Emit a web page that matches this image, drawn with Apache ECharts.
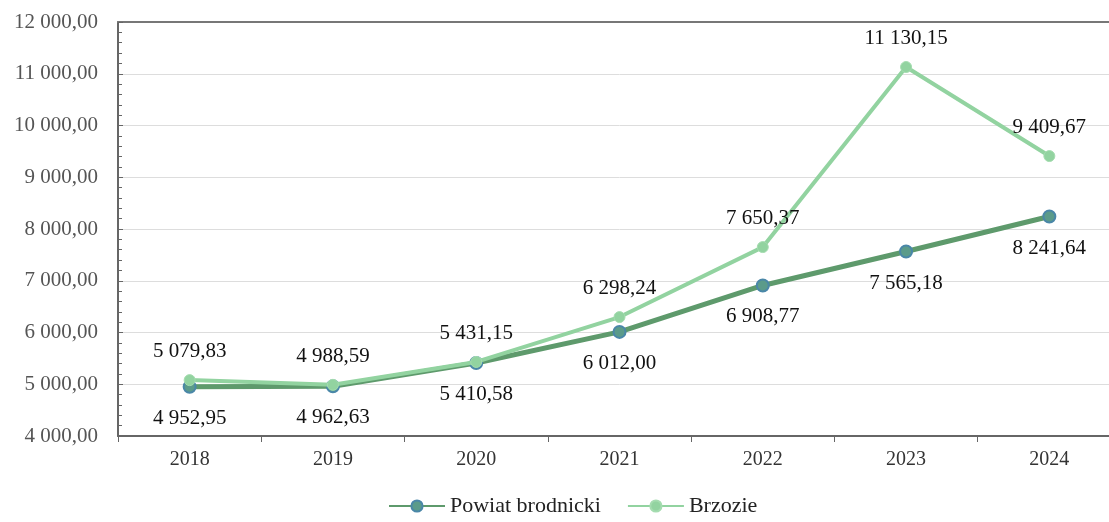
<!DOCTYPE html>
<html>
<head>
<meta charset="utf-8">
<script src="https://cdn.jsdelivr.net/npm/echarts@6/dist/echarts.min.js"></script>
<style>
html, body { margin: 0; padding: 0; background: #fff; overflow: hidden; }
/* the original plot runs past the right edge of the picture, so the canvas is a bit wider than the window */
#chart { width: 1121px; height: 522px; }
</style>
</head>
<body>
<div id="chart"></div>
<script>
var years = ['2018', '2019', '2020', '2021', '2022', '2023', '2024'];
var powiat = [4952.95, 4962.63, 5410.58, 6012.00, 6908.77, 7565.18, 8241.64];
var brzozie = [5079.83, 4988.59, 5431.15, 6298.24, 7650.37, 11130.15, 9409.67];

function fmt(v) {
	var parts = v.toFixed(2).split('.');
	var intPart = parts[0].replace(/\B(?=(\d{3})+(?!\d))/g, ' ');
	return intPart + ',' + parts[1];
}

var serif = 'Liberation Serif';
var myChart = echarts.init(document.getElementById('chart'));
var option = {
	animation: false,
	grid: { left: 118, right: 0, top: 22, bottom: 86 },
	legend: {
		bottom: 0,
		left: 383,
		itemWidth: 56,
		itemHeight: 14,
		itemGap: 26,
		textStyle: { fontFamily: serif, fontSize: 22, color: '#222' },
		data: ['Powiat brodnicki', 'Brzozie']
	},
	xAxis: [{
		type: 'category',
		data: years,
		axisLine: { lineStyle: { color: '#666', width: 2 } },
		axisTick: { show: true, length: 6, lineStyle: { color: '#666' } },
		axisLabel: { fontFamily: serif, fontSize: 20, color: '#333', margin: 14 }
	}, {
		type: 'category',
		position: 'top',
		data: years,
		axisLine: { show: true, lineStyle: { color: '#777', width: 2 } },
		axisTick: { show: false },
		axisLabel: { show: false }
	}],
	yAxis: {
		type: 'value',
		min: 4000,
		max: 12000,
		interval: 1000,
		axisLine: { show: true, lineStyle: { color: '#666', width: 2 } },
		axisTick: { show: true, inside: true, length: 5, lineStyle: { color: '#666' } },
		minorTick: { show: true, splitNumber: 5, length: 4, lineStyle: { color: '#666' } },
		splitLine: { lineStyle: { color: '#ddd' } },
		axisLabel: {
			fontFamily: serif, fontSize: 21, color: '#555', margin: 20,
			formatter: function (v) { return fmt(v); }
		}
	},
	series: [
		{
			name: 'Powiat brodnicki',
			type: 'line',
			data: powiat,
			symbol: 'circle',
			symbolSize: 12,
			z: 2,
			lineStyle: { color: '#5e9a6c', width: 5 },
			itemStyle: { color: '#5b9b8a', borderColor: '#4a87a8', borderWidth: 2 },
			label: {
				show: true, position: 'bottom', distance: 14,
				fontFamily: serif, fontSize: 21, color: '#111',
				formatter: function (p) { return fmt(p.value); }
			}
		},
		{
			name: 'Brzozie',
			type: 'line',
			data: brzozie,
			symbol: 'circle',
			symbolSize: 11,
			z: 3,
			lineStyle: { color: '#92d3a0', width: 4 },
			itemStyle: { color: '#92d3a0', borderColor: '#a5dcb0', borderWidth: 1 },
			label: {
				show: true, position: 'top', distance: 12,
				fontFamily: serif, fontSize: 21, color: '#111',
				formatter: function (p) { return fmt(p.value); }
			}
		}
	]
};
myChart.setOption(option);
</script>
</body>
</html>
